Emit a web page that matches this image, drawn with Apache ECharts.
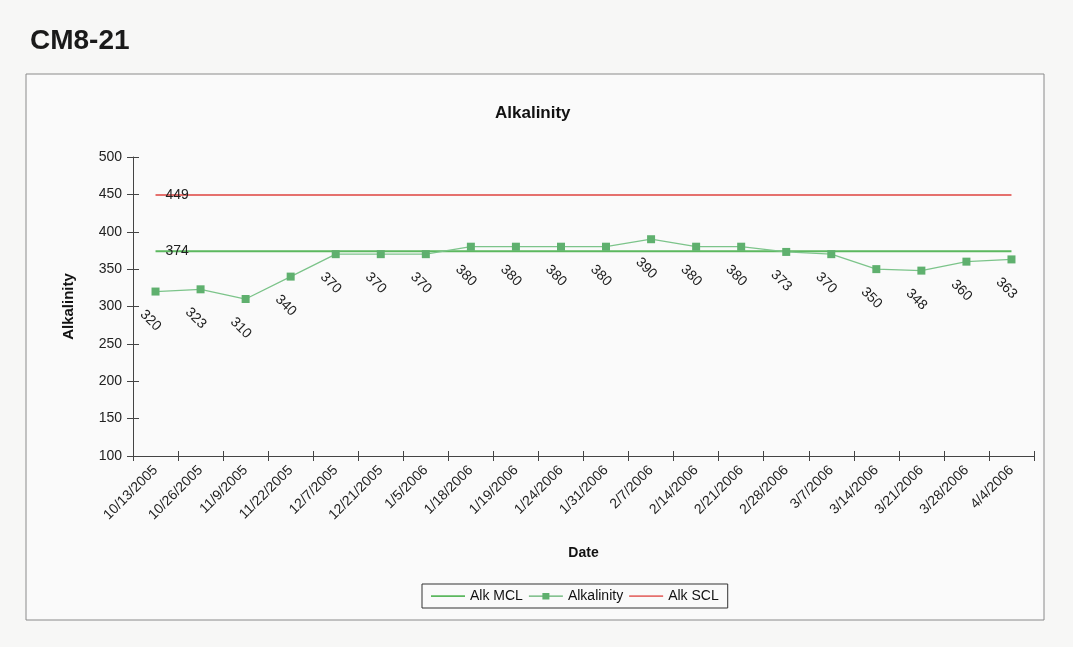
<!DOCTYPE html>
<html>
<head>
<meta charset="utf-8">
<script src="https://cdn.jsdelivr.net/npm/echarts@6/dist/echarts.min.js"></script>
<style>
  html, body { margin: 0; padding: 0; background: #f7f7f6; }
  #chart { width: 1073px; height: 647px; }
</style>
</head>
<body>
<div id="chart"></div>
<script>
const dates = [
  "10/13/2005", "10/26/2005", "11/9/2005", "11/22/2005", "12/7/2005",
  "12/21/2005", "1/5/2006", "1/18/2006", "1/19/2006", "1/24/2006",
  "1/31/2006", "2/7/2006", "2/14/2006", "2/21/2006", "2/28/2006",
  "3/7/2006", "3/14/2006", "3/21/2006", "3/28/2006", "4/4/2006"
];
const alkalinity = [320, 323, 310, 340, 370, 370, 370, 380, 380, 380,
  380, 390, 380, 380, 373, 370, 350, 348, 360, 363];
const alkMCL = [374, 374, 374, 374, 374, 374, 374, 374, 374, 374,
  374, 374, 374, 374, 374, 374, 374, 374, 374, 374];
const alkSCL = [449, 449, 449, 449, 449, 449, 449, 449, 449, 449,
  449, 449, 449, 449, 449, 449, 449, 449, 449, 449];

const font = "'Liberation Sans', Arial, sans-serif";
const green = "#5cb85f";
const red = "#e5706d";
const axisColor = "#444";
const gridLeft = 133, gridRight = 39;
const plotWidth = 1073 - gridLeft - gridRight;

// legend icons: tiny dots at the corners keep the path box at 34x9 so nothing is stretched
const corners = "M0,0 L0.01,0 L0.01,0.01 Z M34,9 L33.99,9 L33.99,8.99 Z ";
const lineIcon = "path://" + corners + "M0,3.8 L34,3.8 L34,5.4 L0,5.4 Z";
const markerIcon = "path://" + corners + "M0,4 L34,4 L34,5.2 L0,5.2 Z M13.5,1.5 L20.5,1.5 L20.5,8 L13.5,8 Z";

const chart = echarts.init(document.getElementById("chart"));

// value printed once, just right of where the limit line starts
const limitLabel = (values) => ({
  symbol: "circle",
  symbolSize: 0,
  label: { show: true, position: "right", distance: 10, fontSize: 14, color: "#222", formatter: "{c}" },
  data: [{ coord: [0, values[0]], value: values[0] }]
});

const option = {
  backgroundColor: "#f7f7f6",
  textStyle: { fontFamily: font },
  graphic: [
    {
      type: "rect",
      shape: { x: 26, y: 74, width: 1018, height: 546 },
      style: { fill: "#fafafa", stroke: "#8a8a8a", lineWidth: 1 },
      z: -10
    },
    {
      type: "text",
      left: 30,
      top: 27,
      style: { text: "CM8-21", font: "bold 28px " + font, fill: "#1a1a1a" }
    }
  ],
  title: {
    text: "Alkalinity",
    left: 490,
    top: 100,
    textStyle: { fontSize: 17, fontWeight: "bold", color: "#111", fontFamily: font }
  },
  legend: {
    bottom: 39,
    left: 422,
    data: [
      { name: "Alk MCL", icon: lineIcon },
      { name: "Alkalinity", icon: markerIcon },
      { name: "Alk SCL", icon: lineIcon }
    ],
    itemWidth: 34,
    itemHeight: 9,
    itemGap: 6,
    padding: [5, 9],
    borderColor: "#333",
    borderWidth: 1,
    textStyle: { fontSize: 14, color: "#111", fontFamily: font }
  },
  grid: { left: gridLeft, right: gridRight, top: 157, bottom: 191 },
  xAxis: [
    {
      type: "category",
      data: dates,
      boundaryGap: true,
      name: "Date",
      nameLocation: "middle",
      nameGap: 90,
      nameTextStyle: { fontSize: 14, fontWeight: "bold", color: "#111" },
      axisLine: { lineStyle: { color: axisColor } },
      axisTick: { show: true, interval: 0, length: 5, lineStyle: { color: axisColor } },
      axisLabel: { interval: 0, rotate: 45, fontSize: 14, color: "#222", margin: 12 },
      splitLine: { show: false }
    },
    {
      // inner half of the crossing ticks
      type: "category",
      data: dates,
      position: "bottom",
      boundaryGap: true,
      axisLine: { show: false },
      axisTick: { show: true, interval: 0, inside: true, length: 5, lineStyle: { color: axisColor } },
      axisLabel: { show: false },
      splitLine: { show: false }
    }
  ],
  yAxis: [
    {
      type: "value",
      min: 100,
      max: 500,
      interval: 50,
      name: "Alkalinity",
      nameLocation: "middle",
      nameGap: 57,
      nameTextStyle: { fontSize: 15, fontWeight: "bold", color: "#111" },
      axisLine: { show: true, lineStyle: { color: axisColor } },
      axisTick: { show: true, length: 6, lineStyle: { color: axisColor } },
      axisLabel: { fontSize: 14, color: "#222", margin: 11 },
      splitLine: { show: false }
    },
    {
      // right-hand axis pulled back onto the left edge: its outward ticks form the inner half
      type: "value",
      min: 100,
      max: 500,
      interval: 50,
      position: "right",
      offset: -plotWidth,
      axisLine: { show: false },
      axisTick: { show: true, length: 6, lineStyle: { color: axisColor } },
      axisLabel: { show: false },
      splitLine: { show: false }
    }
  ],
  series: [
    {
      name: "Alk MCL",
      type: "line",
      data: alkMCL,
      symbol: "none",
      lineStyle: { color: green, width: 2 },
      itemStyle: { color: green },
      markPoint: limitLabel(alkMCL),
      z: 2
    },
    {
      name: "Alkalinity",
      type: "line",
      data: alkalinity,
      symbol: "rect",
      symbolSize: 8,
      lineStyle: { color: "#7cc48a", width: 1.3 },
      itemStyle: { color: "#5fb06e" },
      label: {
        show: true,
        position: "bottom",
        distance: 20,
        rotate: -45,
        fontSize: 14,
        color: "#222"
      },
      z: 3
    },
    {
      name: "Alk SCL",
      type: "line",
      data: alkSCL,
      symbol: "none",
      lineStyle: { color: red, width: 2 },
      itemStyle: { color: red },
      markPoint: limitLabel(alkSCL),
      z: 2
    }
  ]
};

chart.setOption(option);
window.addEventListener("resize", () => chart.resize());
</script>
</body>
</html>
